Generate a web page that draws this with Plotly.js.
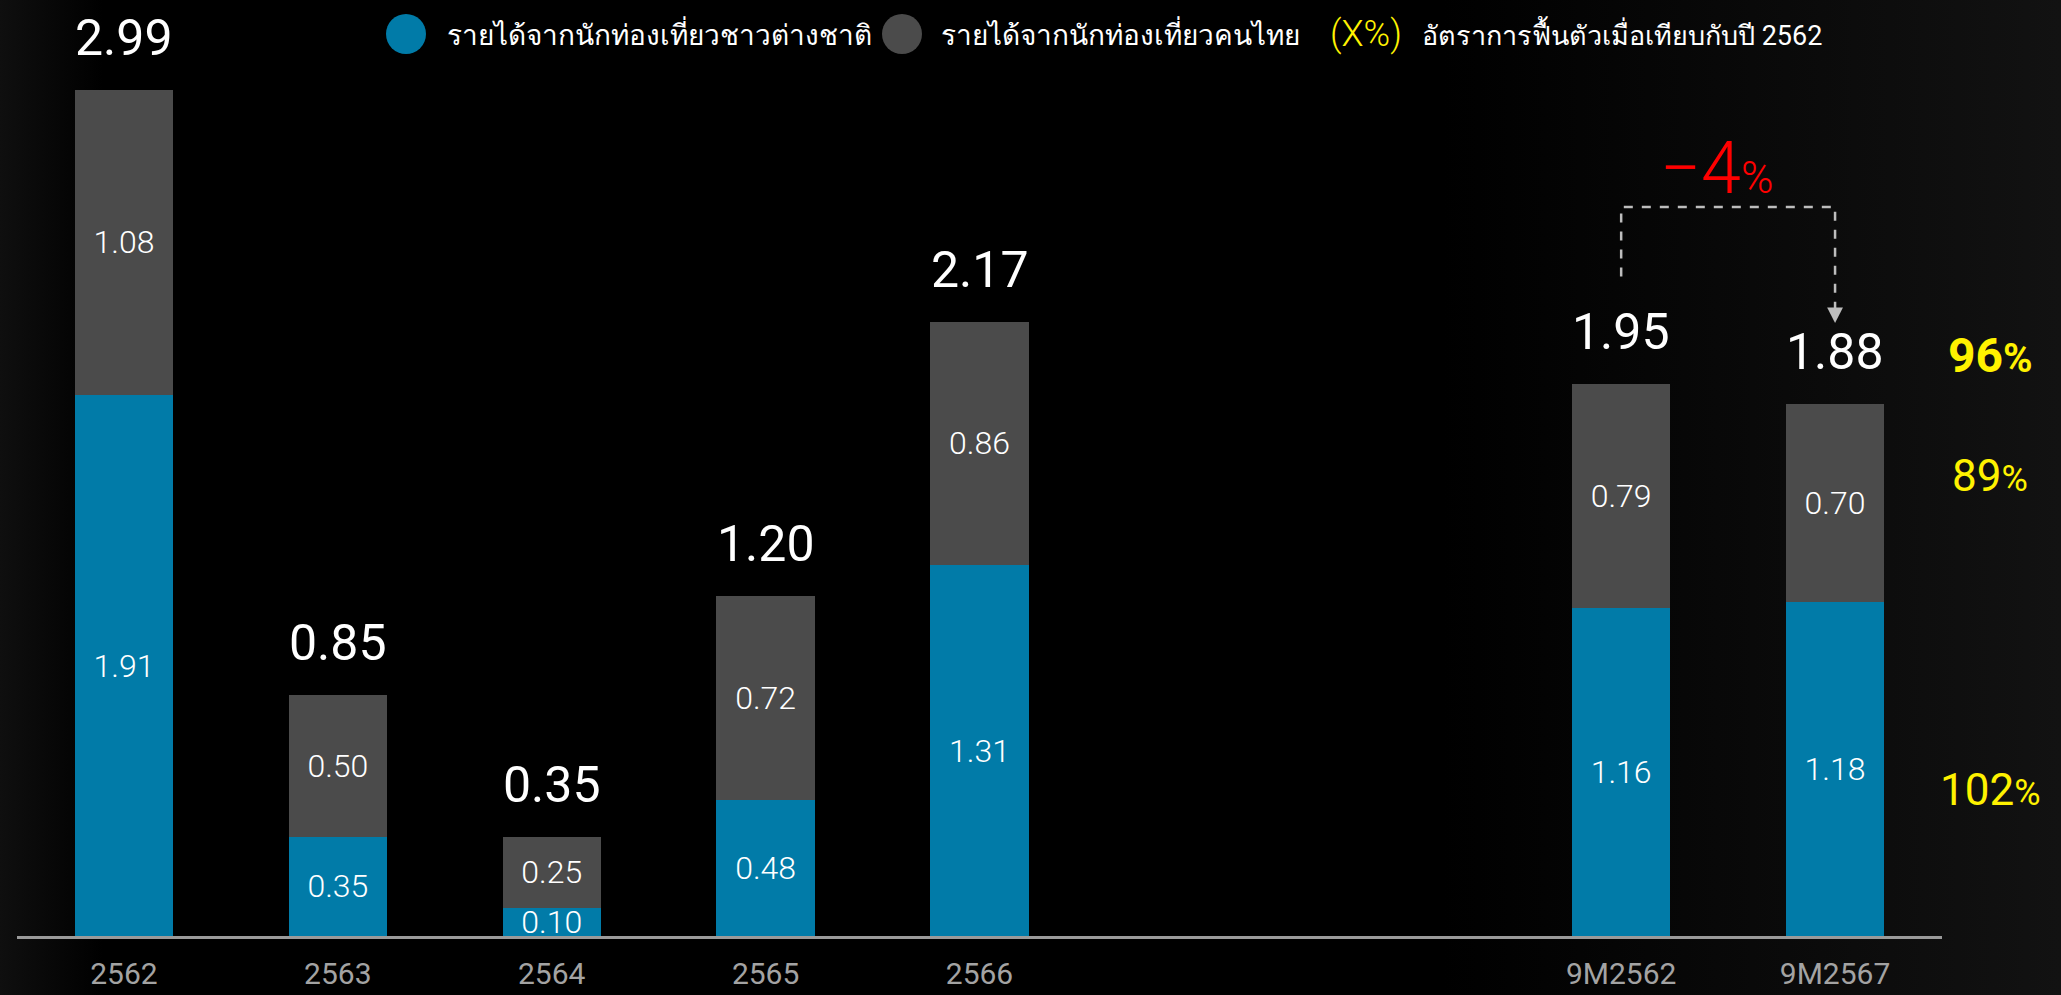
<!DOCTYPE html>
<html>
<head>
<meta charset="utf-8">
<script src="https://cdn.plot.ly/plotly-3.0.1.min.js"></script>
<style>
  html, body { margin: 0; padding: 0; width: 2061px; height: 995px; overflow: hidden;
    background: linear-gradient(90deg, #0f0f0f 0%, #000 5%, #000 70%, #121212 100%); }
  #chart { width: 2061px; height: 995px; }
</style>
</head>
<body>
<div id="chart"></div>
<script>
// ---- data ----
const categories = ['2562', '2563', '2564', '2565', '2566', '9M2562', '9M2567'];
const foreignRevenue = [1.91, 0.35, 0.10, 0.48, 1.31, 1.16, 1.18];
const thaiRevenue = [1.08, 0.50, 0.25, 0.72, 0.86, 0.79, 0.70];
const totalRevenue = [2.99, 0.85, 0.35, 1.20, 2.17, 1.95, 1.88];
const recoveryTotal = 96;
const recoveryThai = 89;
const recoveryForeign = 102;
const changeNineMonths = -4;
const legendNames = ['รายได้จากนักท่องเที่ยวชาวต่างชาติ', 'รายได้จากนักท่องเที่ยวคนไทย'];
const legendNote = 'อัตราการฟื้นตัวเมื่อเทียบกับปี 2562';

// ---- layout helpers ----
const W = 2061, H = 995;
const M = { l: 17, r: 119, t: 0, b: 59 };
const PW = W - M.l - M.r, PH = H - M.t - M.b;
const px2x = px => (px - M.l) / PW;
const py2y = py => (PH - (py - M.t)) / PH;

const BLUE = '#017BA8';
const GREY = '#4B4B4B';
const YELLOW = '#FFF200';
const FONT = 'Roboto, "Noto Sans", "DejaVu Sans", sans-serif';

// two empty slots between annual and 9-month groups
const xPos = categories.map((c, i) => (i < 5 ? i : i + 2));

const barCommon = {
  type: 'bar', x: xPos, width: 0.46,
  textposition: 'inside', insidetextanchor: 'middle', constraintext: 'none',
  textangle: 0, cliponaxis: false, hoverinfo: 'skip', showlegend: false,
  textfont: { family: FONT, size: 32, color: '#ffffff', weight: 300 }
};

const traces = [
  Object.assign({}, barCommon, {
    name: legendNames[0], y: foreignRevenue,
    text: foreignRevenue.map(v => v.toFixed(2)),
    marker: { color: BLUE, line: { width: 0 } }
  }),
  Object.assign({}, barCommon, {
    name: legendNames[1], y: thaiRevenue,
    text: thaiRevenue.map(v => v.toFixed(2)),
    marker: { color: GREY, line: { width: 0 } }
  })
];

const annotations = [];
// totals on top
totalRevenue.forEach((t, i) => {
  annotations.push({
    xref: 'x', yref: 'y', x: xPos[i], y: t, text: t.toFixed(2),
    showarrow: false, yanchor: 'bottom', yshift: 21,
    font: { family: FONT, size: 50, color: '#ffffff' }
  });
});

// recovery rates on the right
const rx = px2x(1990);
const last = categories.length - 1;
annotations.push({
  xref: 'paper', yref: 'y', x: rx, xanchor: 'center', y: totalRevenue[last], yanchor: 'bottom', yshift: 18,
  text: '<b>' + recoveryTotal + '<span style="font-size:40px">%</span></b>', showarrow: false,
  font: { family: FONT, size: 48, color: YELLOW }
});
annotations.push({
  xref: 'paper', yref: 'y', x: rx, xanchor: 'center', y: foreignRevenue[last] + thaiRevenue[last] / 2, yshift: 27,
  text: recoveryThai + '<span style="font-size:36px">%</span>', showarrow: false,
  font: { family: FONT, size: 44, color: YELLOW }
});
annotations.push({
  xref: 'paper', yref: 'y', x: rx, xanchor: 'center', y: foreignRevenue[last] / 2, yshift: -21,
  text: recoveryForeign + '<span style="font-size:36px">%</span>', showarrow: false,
  font: { family: FONT, size: 44, color: YELLOW }
});

// -4% change bracket
const bracketTop = Math.max(totalRevenue[5], totalRevenue[6]) + 0.625;
const leftEnd = totalRevenue[5] + 0.38;
const tipY = totalRevenue[6] + 0.285;
annotations.push({
  xref: 'x', yref: 'y', x: (xPos[5] + xPos[6]) / 2 - 0.05, y: bracketTop, yanchor: 'bottom', yshift: -6,
  text: '\u2212' + Math.abs(changeNineMonths) + '<span style="font-size:44px">%</span>', showarrow: false,
  font: { family: FONT, size: 72, color: '#FF0000', weight: 300 }
});

// custom legend
const legendY = py2y(34);
annotations.push(
  { xref: 'paper', yref: 'paper', x: px2x(445), y: legendY, yanchor: 'middle', xanchor: 'left', showarrow: false,
    text: legendNames[0], font: { family: FONT, size: 28, color: '#ffffff' } },
  { xref: 'paper', yref: 'paper', x: px2x(939), y: legendY, yanchor: 'middle', xanchor: 'left', showarrow: false,
    text: legendNames[1], font: { family: FONT, size: 28, color: '#ffffff' } },
  { xref: 'paper', yref: 'paper', x: px2x(1328), y: legendY, yanchor: 'middle', xanchor: 'left', showarrow: false,
    text: '(X%)', font: { family: FONT, size: 36, color: YELLOW, weight: 300 } },
  { xref: 'paper', yref: 'paper', x: px2x(1420), y: legendY, yanchor: 'middle', xanchor: 'left', showarrow: false,
    text: legendNote, font: { family: FONT, size: 27, color: '#ffffff' } }
);

const shapes = [
  { type: 'circle', xref: 'paper', yref: 'paper', xsizemode: 'pixel', ysizemode: 'pixel',
    xanchor: px2x(406), yanchor: legendY, x0: -20, x1: 20, y0: -20, y1: 20,
    fillcolor: BLUE, line: { width: 0 } },
  { type: 'circle', xref: 'paper', yref: 'paper', xsizemode: 'pixel', ysizemode: 'pixel',
    xanchor: px2x(902), yanchor: legendY, x0: -20, x1: 20, y0: -20, y1: 20,
    fillcolor: GREY, line: { width: 0 } },
  { type: 'path', xref: 'x', yref: 'y',
    path: `M ${xPos[5]},${leftEnd} L ${xPos[5]},${bracketTop} L ${xPos[6]},${bracketTop} L ${xPos[6]},${tipY + 0.05}`,
    line: { color: '#BDBDBD', width: 2.5, dash: 'dash' } },
  { type: 'path', xref: 'x', yref: 'y',
    path: `M ${xPos[6] - 0.037},${tipY + 0.055} L ${xPos[6] + 0.037},${tipY + 0.055} L ${xPos[6]},${tipY} Z`,
    fillcolor: '#BDBDBD', line: { width: 0 } }
];

const layout = {
  width: W, height: H, margin: M,
  paper_bgcolor: 'rgba(0,0,0,0)', plot_bgcolor: 'rgba(0,0,0,0)',
  barmode: 'stack', showlegend: false,
  font: { family: FONT, color: '#ffffff' },
  xaxis: {
    range: [-0.5, 8.5], tickmode: 'array', tickvals: xPos, ticktext: categories,
    showgrid: false, zeroline: false, showline: true, linecolor: '#9A9A9A', linewidth: 2.5,
    ticks: '', ticklabelstandoff: 9, tickfont: { family: FONT, size: 30, color: '#A3A3A3' },
    fixedrange: true
  },
  yaxis: { range: [0, PH / 283.1], visible: false, fixedrange: true },
  annotations: annotations,
  shapes: shapes
};

Plotly.newPlot('chart', traces, layout, { displayModeBar: false, staticPlot: true });
</script>
</body>
</html>
